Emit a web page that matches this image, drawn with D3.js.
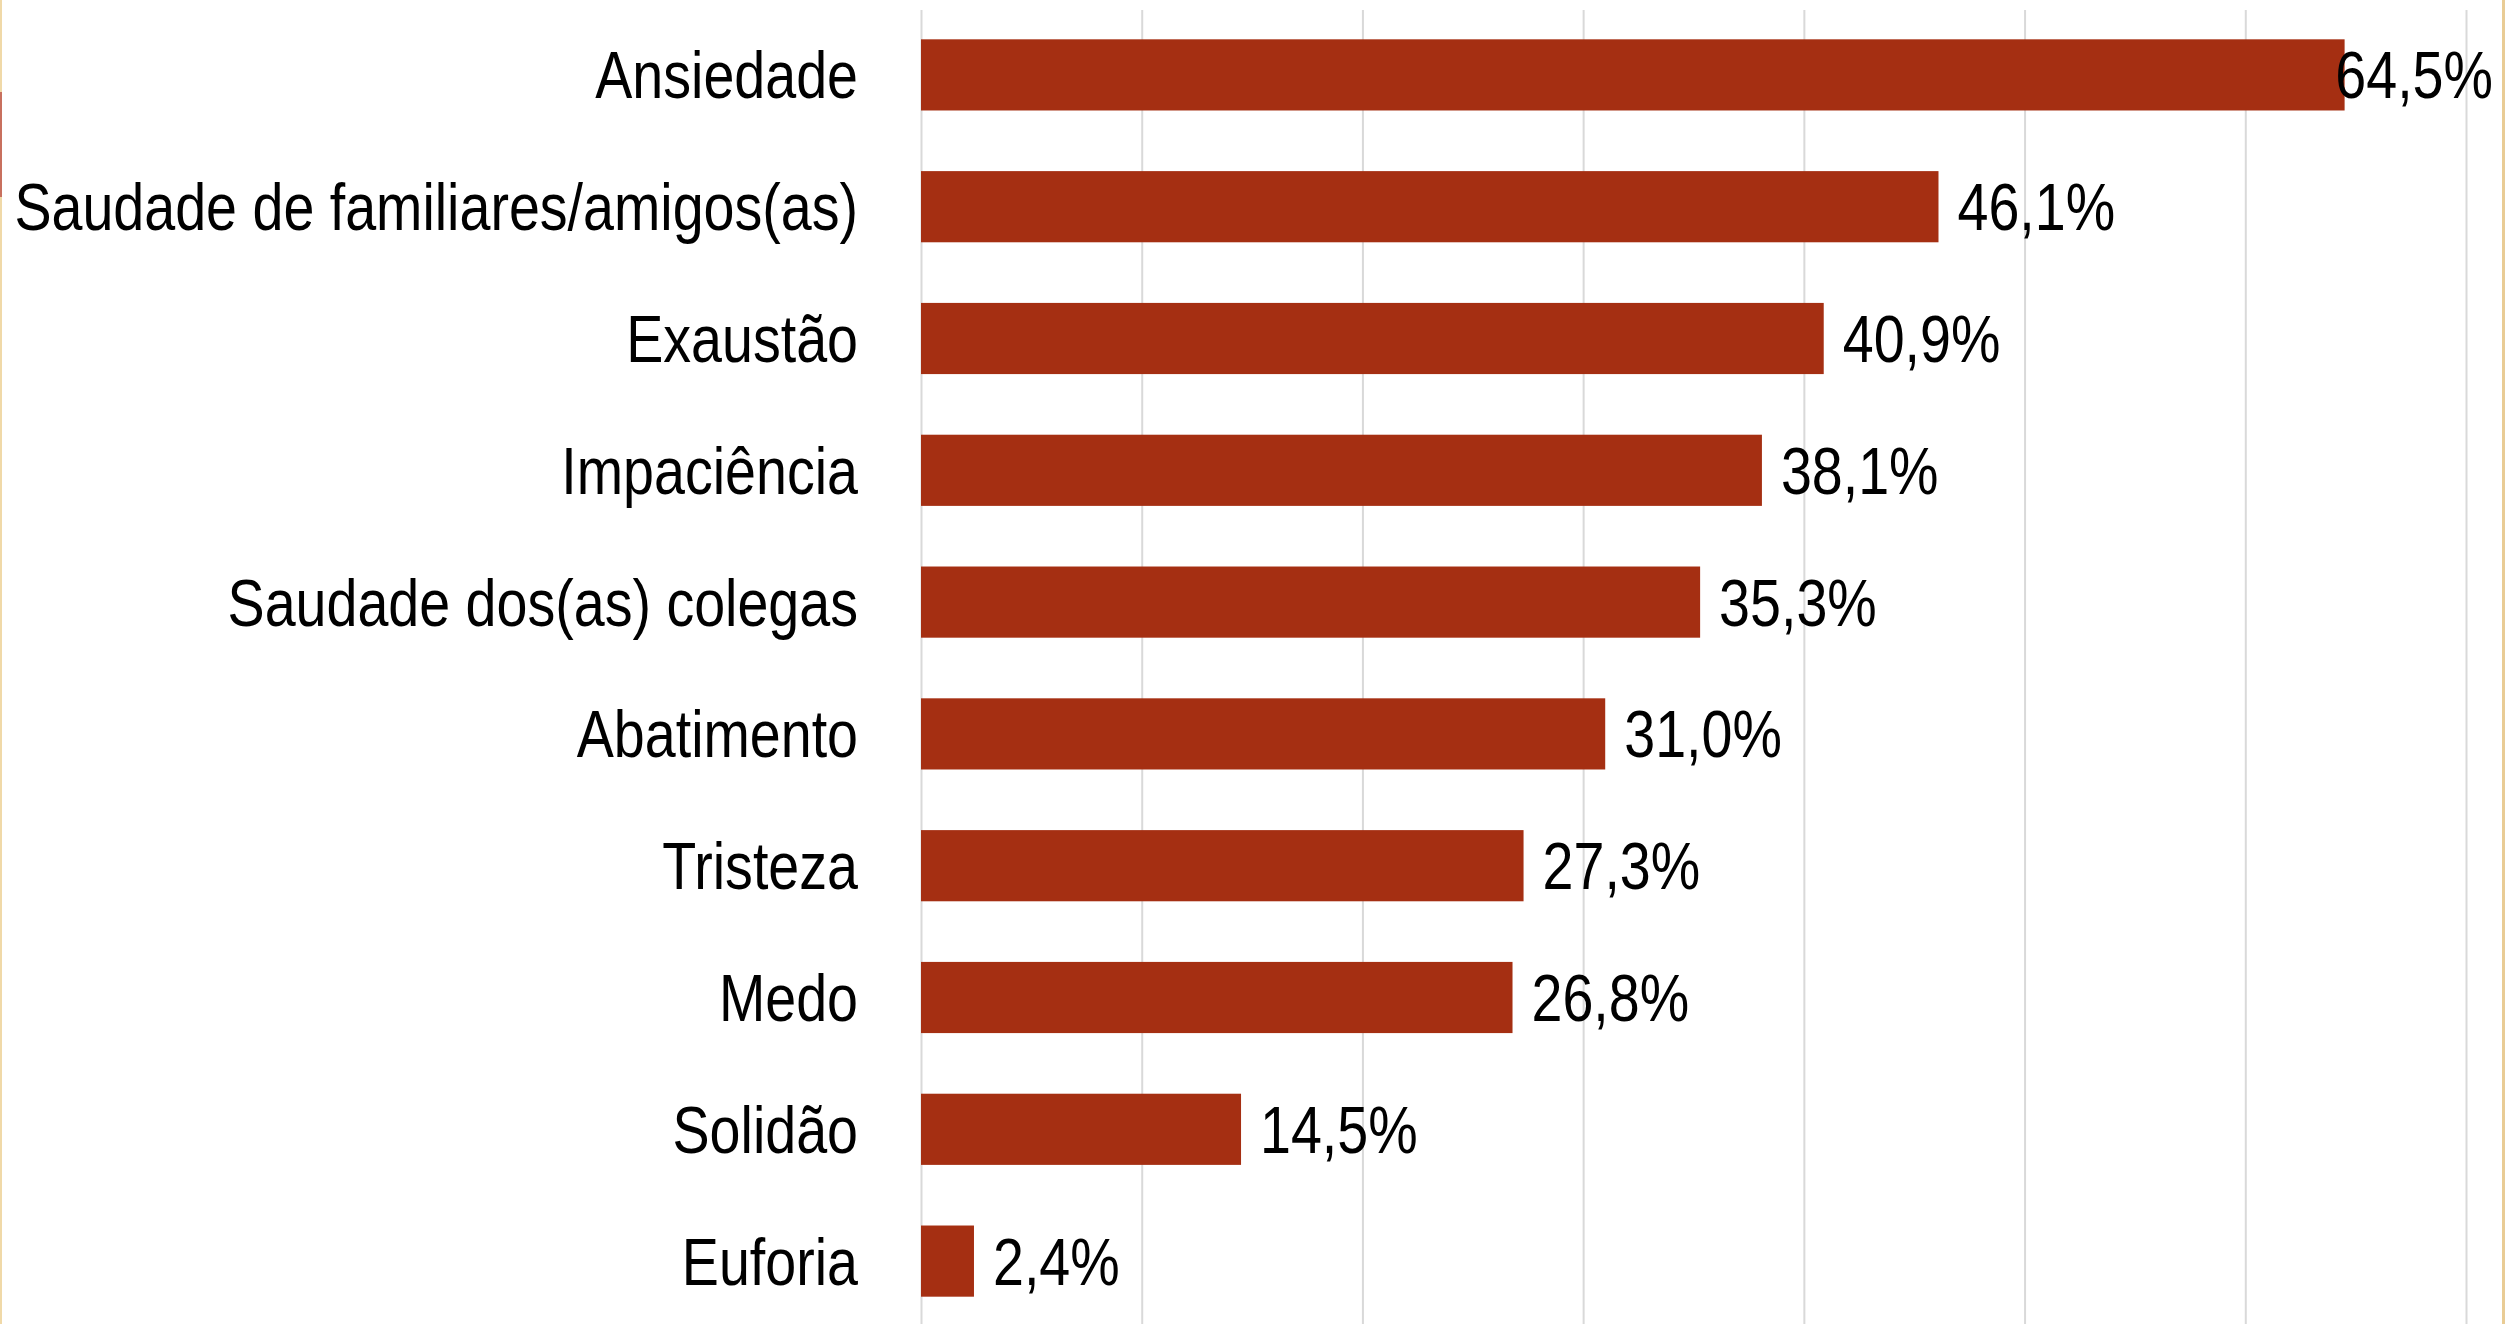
<!DOCTYPE html>
<html>
<head>
<meta charset="utf-8">
<script src="https://cdn.jsdelivr.net/npm/d3@7"></script>
<style>
  html, body { margin: 0; padding: 0; background: #fff; overflow: hidden; }
  svg { display: block; }
</style>
</head>
<body>
<div id="chart"></div>
<script>
// Sentimentos relatados — barras horizontais

const categories = [
  "Ansiedade",
  "Saudade de familiares/amigos(as)",
  "Exaustão",
  "Impaciência",
  "Saudade dos(as) colegas",
  "Abatimento",
  "Tristeza",
  "Medo",
  "Solidão",
  "Euforia"
];
const values = [64.5, 46.1, 40.9, 38.1, 35.3, 31.0, 27.3, 26.8, 14.5, 2.4];
const xTicks = [0, 10, 20, 30, 40, 50, 60, 70];

const width = 2505, height = 1324;
const barColor = "#a52f12";
const fontSize = 67;
const squeeze = 0.83; // the source text is horizontally condensed

const svg = d3.select("#chart").append("svg")
  .attr("width", width)
  .attr("height", height);

svg.append("rect").attr("width", width).attr("height", height).attr("fill", "#fff");

const x = d3.scaleLinear().domain([0, 70]).range([921, 2466]);
const y = d3.scaleBand().domain(categories).range([9, 1327])
  .paddingInner(0.46).paddingOuter(0.23);

// vertical gridlines, no tick labels
svg.append("g")
  .attr("transform", `translate(0,10)`)
  .call(d3.axisBottom(x).tickValues(xTicks).tickSize(height).tickFormat(""))
  .call(g => g.select(".domain").remove())
  .selectAll("line")
  .attr("stroke", "#d9d9d9")
  .attr("stroke-width", 2);

// bars
svg.append("g")
  .selectAll("rect")
  .data(values)
  .join("rect")
  .attr("x", x(0))
  .attr("y", (d, i) => y(categories[i]))
  .attr("width", d => x(d) - x(0))
  .attr("height", y.bandwidth())
  .attr("fill", barColor);

// category labels
svg.append("g")
  .selectAll("text")
  .data(categories)
  .join("text")
  .attr("transform", d => `translate(858,${y(d) + y.bandwidth() / 2}) scale(${squeeze},1)`)
  .attr("dy", "0.35em")
  .attr("text-anchor", "end")
  .attr("font-family", "'Liberation Sans', Arial, sans-serif")
  .attr("font-size", fontSize)
  .attr("fill", "#000")
  .text(d => d);

// value labels
const fmt = v => v.toFixed(1).replace(".", ",") + "%";
const labels = svg.append("g")
  .selectAll("text")
  .data(values)
  .join("text")
  .attr("dy", "0.35em")
  .attr("font-family", "'Liberation Sans', Arial, sans-serif")
  .attr("font-size", fontSize)
  .attr("fill", "#000")
  .text(fmt);

labels.each(function(d, i) {
  const w = this.getComputedTextLength() * squeeze;
  let lx = x(d) + 19;
  // keep the label inside the picture (top bar)
  if (lx + w > 2493) lx = 2493 - w;
  d3.select(this).attr("transform",
    `translate(${lx},${y(categories[i]) + y.bandwidth() / 2}) scale(${squeeze},1)`);
});

// thin tan frame edges seen in the source image
svg.append("rect").attr("x", 0).attr("y", 0).attr("width", 2).attr("height", height).attr("fill", "#f0d9a8");
svg.append("rect").attr("x", 0).attr("y", 92).attr("width", 2).attr("height", 105).attr("fill", "#c8705e");
svg.append("rect").attr("x", 2502).attr("y", 0).attr("width", 3).attr("height", height).attr("fill", "#e9cc95");
</script>
</body>
</html>
